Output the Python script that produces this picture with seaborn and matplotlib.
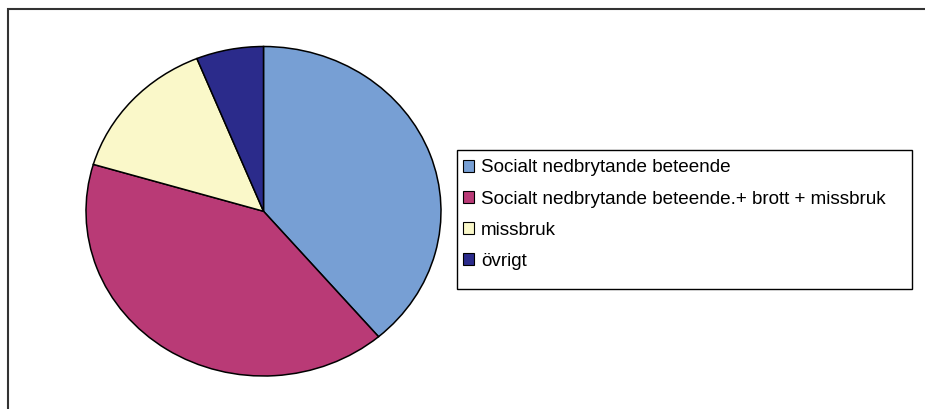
import matplotlib
matplotlib.use("Agg")
import matplotlib.pyplot as plt
import seaborn as sns
from matplotlib.patches import Rectangle, Patch

# data
labels = ["Socialt nedbrytande beteende",
          "Socialt nedbrytande beteende.+ brott + missbruk",
          "missbruk",
          "övrigt"]
counts = [19, 20, 7, 3]
colors = ["#779fd4", "#b93a76", "#faf8c9", "#2b2b8b"]

sns.set_style("white")
plt.rcParams['font.family'] = ['Liberation Sans', 'DejaVu Sans']
plt.rcParams['text.color'] = 'black'

W, H = 925, 409
fig = plt.figure(figsize=(W / 100, H / 100), dpi=100)

# outer chart frame (cut off at right and bottom like the original)
fig.patches.append(Rectangle((8 / W, -0.2), 2.0, (H - 8.5) / H + 0.2,
                             transform=fig.transFigure, fill=False,
                             edgecolor="#333333", linewidth=1.5))

# pie drawn in a box matching the (slightly squashed) ellipse
left, right, top, bottom = 86, 441, 46.5, 376
ax = fig.add_axes([left / W, (H - bottom) / H, (right - left) / W, (bottom - top) / H])
wedges, _ = ax.pie(counts, colors=colors, startangle=90, counterclock=False,
                   wedgeprops=dict(edgecolor="black", linewidth=1.1))
ax.set_aspect("auto")
ax.set_xlim(-1, 1)
ax.set_ylim(-1, 1)
ax.axis("off")

# legend box
lx0, ly0, lx1, ly1 = 456.5, 150, 912, 289
fig.patches.append(Rectangle((lx0 / W, (H - ly1) / H), (lx1 - lx0) / W, (ly1 - ly0) / H,
                             transform=fig.transFigure, fill=False,
                             edgecolor="black", linewidth=1.0))
handles = [Patch(facecolor=c, edgecolor="black", linewidth=0.8) for c in colors]
fig.legend(handles, labels, loc="upper left",
           bbox_to_anchor=(463 / W, (H - 159.5) / H), frameon=False,
           fontsize=13.6, handlelength=0.6, handleheight=0.6,
           handletextpad=0.35, labelspacing=0.75, borderaxespad=0, borderpad=0)

fig.savefig("out.png", dpi=100)
